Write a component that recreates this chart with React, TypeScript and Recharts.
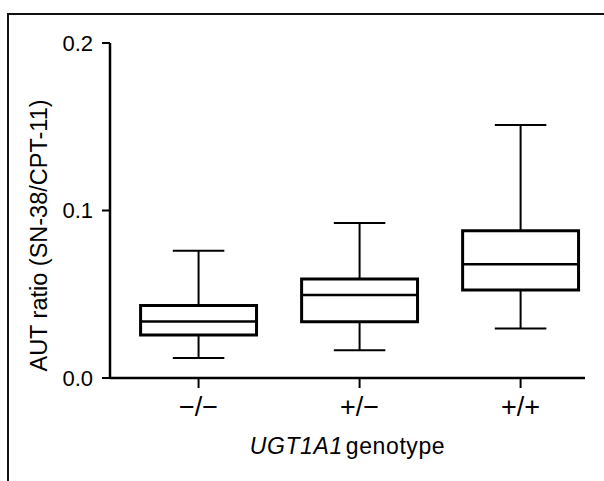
import { ComposedChart, XAxis, YAxis, Scatter, ReferenceArea, ReferenceLine, Label } from 'recharts';

const categories = ['\u2212/\u2212', '+/\u2212', '+/+'];
const whiskerLow = [0.012, 0.0166, 0.0296];
const lowerQuartile = [0.0256, 0.0336, 0.0525];
const median = [0.0338, 0.0495, 0.0679];
const upperQuartile = [0.0433, 0.0591, 0.0879];
const whiskerHigh = [0.076, 0.0926, 0.1511];
const yTicks = [0, 0.1, 0.2];

const BOX_HALF = 0.36;
const CAP_HALF = 0.16;
const FONT = 'Liberation Sans, Arial, sans-serif';

const points = categories.map((name, i) => ({ x: i + 1, y: median[i], name }));

const XTitle = (props: any) => {
    const vb = props.viewBox;
    return (
        <text
            x={vb.x + vb.width / 2}
            y={vb.y + 76}
            textAnchor="middle"
            fontFamily={FONT}
            fontSize={23}
            letterSpacing={0.6}
            fill="#000"
        >
            <tspan fontStyle="italic">UGT1A1</tspan>
            <tspan dx={3}>genotype</tspan>
        </text>
    );
};

export default function App() {
    return (
        <div
            style={{
                position: 'absolute',
                top: 0,
                left: 0,
                width: 604,
                height: 481,
                background: '#fff',
                overflow: 'hidden',
            }}
        >
            <div
                style={{
                    position: 'absolute',
                    top: 13,
                    left: 7,
                    width: 620,
                    height: 500,
                    borderTop: '2px solid #111',
                    borderLeft: '2px solid #111',
                }}
            />
            <ComposedChart
                width={604}
                height={481}
                margin={{ top: 43, right: 19, bottom: 63, left: 0 }}
                style={{ position: 'absolute', top: 0, left: 0 }}
            >
                <XAxis
                    type="number"
                    dataKey="x"
                    domain={[0.45, 3.4]}
                    ticks={[1, 2, 3]}
                    tickFormatter={(v: number) => categories[v - 1]}
                    height={40}
                    axisLine={{ stroke: '#000', strokeWidth: 2.5 }}
                    tickLine={{ stroke: '#000', strokeWidth: 2 }}
                    tickSize={10}
                    tickMargin={9}
                    tick={{ fill: '#000', fontSize: 27, fontFamily: FONT }}
                    allowDataOverflow
                >
                    <Label content={XTitle} />
                </XAxis>
                <YAxis
                    type="number"
                    dataKey="y"
                    domain={[0, 0.2]}
                    ticks={yTicks}
                    tickFormatter={(v: number) => v.toFixed(1)}
                    width={110}
                    axisLine={{ stroke: '#000', strokeWidth: 2.5 }}
                    tickLine={{ stroke: '#000', strokeWidth: 2 }}
                    tickSize={8}
                    tickMargin={9}
                    tick={{ fill: '#000', fontSize: 22, fontFamily: FONT }}
                    allowDataOverflow
                >
                    <Label
                        value="AUT ratio (SN-38/CPT-11)"
                        angle={-90}
                        position="insideLeft"
                        offset={39}
                        dy={25}
                        style={{ textAnchor: 'middle', fill: '#000', fontSize: 23.5, fontFamily: FONT }}
                    />
                </YAxis>
                {categories.map((c, i) => (
                    <ReferenceLine
                        key={`wh-${c}`}
                        segment={[{ x: i + 1, y: upperQuartile[i] }, { x: i + 1, y: whiskerHigh[i] }]}
                        stroke="#000"
                        strokeWidth={2}
                    />
                ))}
                {categories.map((c, i) => (
                    <ReferenceLine
                        key={`wl-${c}`}
                        segment={[{ x: i + 1, y: lowerQuartile[i] }, { x: i + 1, y: whiskerLow[i] }]}
                        stroke="#000"
                        strokeWidth={2}
                    />
                ))}
                {categories.map((c, i) => (
                    <ReferenceLine
                        key={`ch-${c}`}
                        segment={[{ x: i + 1 - CAP_HALF, y: whiskerHigh[i] }, { x: i + 1 + CAP_HALF, y: whiskerHigh[i] }]}
                        stroke="#000"
                        strokeWidth={2}
                    />
                ))}
                {categories.map((c, i) => (
                    <ReferenceLine
                        key={`cl-${c}`}
                        segment={[{ x: i + 1 - CAP_HALF, y: whiskerLow[i] }, { x: i + 1 + CAP_HALF, y: whiskerLow[i] }]}
                        stroke="#000"
                        strokeWidth={2}
                    />
                ))}
                {categories.map((c, i) => (
                    <ReferenceArea
                        key={`box-${c}`}
                        x1={i + 1 - BOX_HALF}
                        x2={i + 1 + BOX_HALF}
                        y1={lowerQuartile[i]}
                        y2={upperQuartile[i]}
                        fill="#fff"
                        fillOpacity={1}
                        stroke="#000"
                        strokeWidth={3}
                    />
                ))}
                {categories.map((c, i) => (
                    <ReferenceLine
                        key={`med-${c}`}
                        segment={[{ x: i + 1 - BOX_HALF, y: median[i] }, { x: i + 1 + BOX_HALF, y: median[i] }]}
                        stroke="#000"
                        strokeWidth={2.5}
                    />
                ))}
                <Scatter data={points} fill="none" shape={() => <g />} isAnimationActive={false} />
            </ComposedChart>
        </div>
    );
}
